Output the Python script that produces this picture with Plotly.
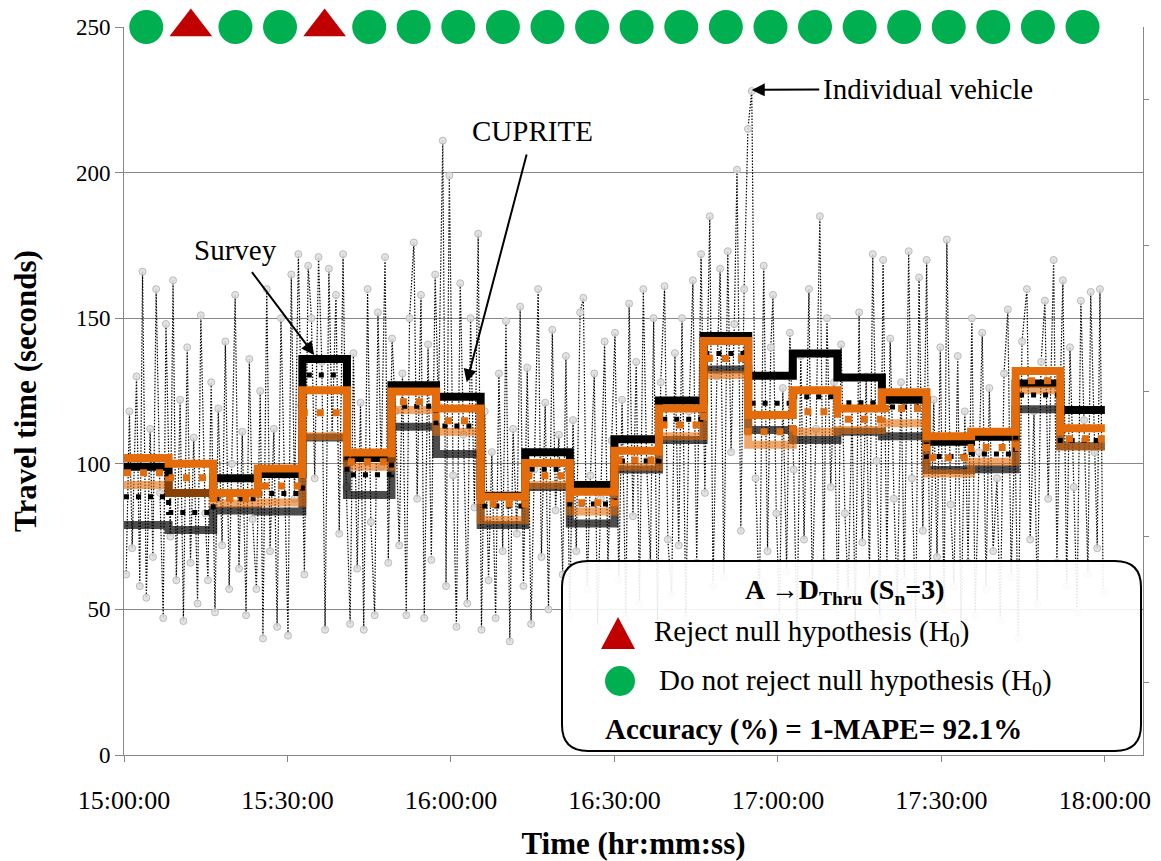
import pandas as pd
import plotly.graph_objects as go

# 22 analysis intervals between 15:00 and 18:00
bounds = ["15:00:00", "15:08:11", "15:16:22", "15:24:33", "15:32:44", "15:40:55",
          "15:49:05", "15:57:16", "16:05:27", "16:13:38", "16:21:49", "16:30:00",
          "16:38:11", "16:46:22", "16:54:33", "17:02:44", "17:10:55", "17:19:05",
          "17:27:16", "17:35:27", "17:43:38", "17:51:49", "18:00:00"]

# Survey (black) and CUPRITE (orange) travel times per interval
survey_hi = [99, 90, 95, 96.5, 136, 102, 127, 123, 89, 104, 92.7, 108.4,
             121.7, 143.9, 130.2, 137.9, 129.6, 122, 107.6, 109.3, 127.6, 118.5]
survey_mid = [88.7, 83.3, 88, 89.8, 130.5, 96.2, 119.8, 113, 85.5, 98.1, 86.2, 101,
              115.3, 137.9, 120.8, 123, 121, 119.5, 102.5, 103.4, 123.6, 108]
survey_lo = [79, 77.3, 84, 83.6, 109, 89.3, 112.7, 103.4, 79, 92, 79.5, 98,
             108.2, 132.4, 111.6, 108.2, 111, 109.5, 97.9, 98.1, 118.7, 106]
cup_hi = [102, 100, 90, 98.4, 125.3, 103.9, 124.8, 119, 88.7, 100.3, 90.4, 104.5,
          119, 142.2, 116.8, 125.3, 119, 124.6, 109.5, 111, 131.9, 112.2]
cup_mid = [96.9, 95.2, 88.1, 92.4, 117.5, 100.7, 121.3, 114.8, 86.2, 95.9, 86.6, 101.3,
           113.3, 136.2, 111, 117.9, 115.3, 119, 102.1, 105.6, 128.5, 108.6]
cup_lo = [92.7, 90, 86.4, 86.7, 109.5, 99, 118.5, 111, 80.7, 92.7, 83.6, 99,
          109.5, 130.5, 106.5, 111, 111.6, 113.9, 96.7, 100.7, 125.3, 105.9]

# hypothesis test per interval
test_result = ["keep", "reject", "keep", "keep", "reject", "keep", "keep", "keep",
               "keep", "keep", "keep", "keep", "keep", "keep", "keep", "keep",
               "keep", "keep", "keep", "keep", "keep", "keep"]

# individual vehicles: minutes after 15:00 and travel time (s)
veh_min = [0.4, 1.0, 1.5, 2.3, 2.9, 3.4, 4.1, 4.8, 5.3, 5.9, 6.6, 7.2, 7.7, 8.5, 9.0, 9.6,
           10.3, 10.9, 11.6, 12.2, 12.8, 13.5, 14.1, 14.9, 15.4, 16.0, 16.7, 17.3, 18.0, 18.6, 19.3, 19.8,
           20.4, 21.1, 21.7, 22.4, 23.0, 23.6, 24.3, 25.0, 25.5, 26.2, 26.8, 27.5, 28.1, 28.8, 29.4,
           30.1, 30.7, 31.3, 32.0, 32.5, 33.1, 33.8, 34.4, 35.0, 35.7, 36.3, 36.9, 37.6, 38.2, 38.9, 39.5,
           40.2, 40.8, 41.5, 42.1, 42.8, 43.4, 44.0, 44.7, 45.3, 46.0, 46.6, 47.2, 47.9, 48.5, 49.2, 49.8,
           50.5, 51.1, 51.8, 52.4, 53.2, 53.8, 54.5, 55.1, 55.8, 56.4, 57.1, 57.7, 58.5, 59.1, 59.7,
           60.4, 61.0, 61.7, 62.3, 63.0, 63.6, 64.3, 65.0, 65.6, 66.2, 66.9, 67.5, 68.2, 68.8, 69.5,
           70.1, 70.8, 71.4, 72.1, 72.7, 73.3, 74.0, 74.7, 75.3, 76.0, 76.6, 77.3, 77.9, 78.6, 79.2, 79.8,
           80.5, 81.1, 81.8, 82.4, 83.0, 83.7, 84.3, 85.0, 85.6, 86.3, 86.9, 87.5, 88.2, 88.8, 89.5,
           90.1, 90.8, 91.4, 92.1, 92.7, 93.4, 94.0, 94.6, 95.3, 95.9, 96.6, 97.2, 97.9, 98.5, 99.2, 99.8,
           100.5, 101.1, 101.8, 102.4, 103.1, 103.7, 104.4, 105.1, 105.9, 106.6, 107.5, 108.1, 108.8, 109.4,
           110.1, 110.8, 111.4, 112.0, 112.5, 113.2, 113.8, 114.5, 115.2, 115.9, 116.6, 117.4, 118.1, 118.7, 119.1, 119.7,
           120.3, 120.9, 121.6, 122.2, 122.9, 123.5, 124.2, 124.8, 125.7, 126.3, 127.0, 127.7, 128.4, 129.0, 129.7,
           130.3, 131.0, 131.6, 132.3, 132.9, 133.6, 134.2, 134.9, 135.5, 136.2, 136.8, 137.4, 138.1, 138.7, 139.3,
           140.0, 140.6, 141.3, 141.9, 142.6, 143.2, 144.0, 144.6, 145.3, 145.9, 146.6, 147.3, 147.9, 148.6, 149.2, 149.8,
           150.5, 151.0, 151.7, 152.3, 153.0, 153.6, 154.3, 154.9, 155.6, 156.2, 156.9, 157.5, 158.2, 158.8, 159.5,
           160.2, 160.8, 161.5, 162.2, 162.8, 163.5, 164.1, 164.8, 165.7, 166.3, 167.0, 167.6, 168.3, 169.0, 169.6,
           170.6, 171.2, 171.8, 172.3, 173.0, 173.6, 174.3, 174.9, 175.6, 176.2, 176.9, 177.4, 178.1, 178.6, 179.1, 179.7]
veh_tt = [62, 118, 71, 130, 58, 166, 54, 112, 68, 160, 90, 47, 148, 75, 163, 60,
          122, 46, 140, 66, 109, 52, 151, 83, 60, 128, 49, 119, 72, 142, 57, 100,
          158, 64, 111, 48, 136, 81, 57, 125, 40, 160, 70, 112, 44, 150, 96,
          41, 165, 88, 172, 120, 62, 168, 150, 95, 171, 135, 43, 167, 110, 158, 76,
          172, 92, 45, 138, 64, 121, 43, 160, 80, 48, 152, 99, 171, 66, 143, 118,
          72, 131, 48, 150, 176, 88, 158, 47, 141, 67, 165, 120, 211, 58, 199,
          96, 44, 162, 110, 52, 150, 85, 179, 43, 118, 60, 104, 47, 131, 70,
          149, 39, 112, 76, 154, 58, 133, 45, 98, 160, 68, 121, 50, 146, 84, 110,
          62, 137, 48, 115, 70, 152, 157, 57, 96, 131, 44, 88, 142, 65, 108,
          145, 60, 122, 47, 155, 82, 135, 52, 160, 101, 66, 150, 45, 128, 161, 74,
          55, 138, 72, 150, 47, 118, 163, 66, 172, 90, 185, 58, 130, 167,
          61, 173, 104, 148, 201, 77, 160, 215, 228, 95, 52, 168, 70, 140, 158, 83,
          48, 126, 63, 145, 98, 41, 137, 74, 160, 55, 112, 185, 66, 150, 92,
          128, 50, 141, 83, 56, 119, 44, 152, 73, 130, 60, 172, 101, 47, 170,
          65, 143, 88, 52, 128, 60, 173, 95, 45, 164, 77, 170, 55, 122, 68, 140,
          50, 177, 86, 58, 137, 42, 118, 66, 150, 48, 104, 145, 57, 126, 70,
          95, 46, 131, 153, 61, 112, 40, 142, 160, 74, 118, 52, 135, 156, 88,
          170, 66, 124, 163, 58, 140, 92, 49, 156, 115, 62, 159, 104, 71, 160, 56]

DAY = "2021-01-01 "
SERIF = "Liberation Serif, DejaVu Serif, serif"
ORANGE = "#E46C0A"


def tm(s):
    return pd.Timestamp(DAY + s)


t0 = tm("15:00:00")
bx = [tm(s) for s in bounds]
centers = [a + (b - a) / 2 for a, b in zip(bx[:-1], bx[1:])]
veh_x = [t0 + pd.Timedelta(minutes=m) for m in veh_min]

fig = go.Figure()

# individual vehicles
fig.add_trace(go.Scatter(
    x=veh_x, y=veh_tt, mode="lines+markers",
    line=dict(color="black", width=1.2, dash="1.5px,1.5px"),
    marker=dict(size=7, color="rgba(222,222,222,0.85)", line=dict(color="#bcbcbc", width=1)),
))


def step(vals, color, width, dash="solid"):
    fig.add_trace(go.Scatter(
        x=bx, y=vals + [vals[-1]], mode="lines", line_shape="hv",
        line=dict(color=color, width=width, dash=dash),
    ))


step(survey_lo, "rgba(0,0,0,0.7)", 8)
step(survey_hi, "black", 8)
step(cup_lo, "rgba(228,108,10,0.6)", 8)
step(survey_mid, "black", 5, "5px,7px")
step(cup_hi, ORANGE, 8)
step(cup_mid, ORANGE, 7, "7px,9px")

# hypothesis markers at top
keep_x = [c for c, r in zip(centers, test_result) if r == "keep"]
rej_x = [c for c, r in zip(centers, test_result) if r == "reject"]
fig.add_trace(go.Scatter(
    x=keep_x, y=[250] * len(keep_x), mode="markers", yaxis="y2", cliponaxis=False,
    marker=dict(symbol="circle", size=34, color="#00B050"),
))
fig.add_trace(go.Scatter(
    x=rej_x, y=[250] * len(rej_x), mode="markers", yaxis="y2", cliponaxis=False,
    marker=dict(symbol="triangle-up", size=37, color="#C00000"),
))

# pixel -> paper helpers for the custom legend box
L, T, W, H = 124, 27, 1019, 728


def px(x):
    return (x - L) / W


def py(y):
    return (T + H - y) / H


x0, x1, yt, yb = px(562), px(1141), py(561), py(751)
rx, ry = 26 / W, 26 / H
box = (f"M {x0+rx},{yb} L {x1-rx},{yb} Q {x1},{yb} {x1},{yb+ry} L {x1},{yt-ry} "
       f"Q {x1},{yt} {x1-rx},{yt} L {x0+rx},{yt} Q {x0},{yt} {x0},{yt-ry} "
       f"L {x0},{yb+ry} Q {x0},{yb} {x0+rx},{yb} Z")

shapes = [
    dict(type="path", xref="paper", yref="paper", path=box,
         fillcolor="rgba(255,255,255,0.9)", line=dict(color="black", width=2), layer="above"),
    dict(type="path", xref="paper", yref="paper",
         path=f"M {px(601)},{py(649)} L {px(635)},{py(649)} L {px(618)},{py(617)} Z",
         fillcolor="#C00000", line=dict(width=0), layer="above"),
    dict(type="circle", xref="paper", yref="paper", x0=px(605), x1=px(635), y0=py(696), y1=py(666),
         fillcolor="#00B050", line=dict(width=0), layer="above"),
]

arrow = dict(showarrow=True, arrowhead=2, arrowsize=1.3, arrowwidth=2, arrowcolor="black")
legend_txt = dict(xref="paper", yref="paper", showarrow=False, yanchor="middle")
annotations = [
    dict(x=px(845), y=py(591), xanchor="center",
         text="<b>A →D<sub>Thru</sub> (S<sub>n</sub>=3)</b>", font=dict(size=28), **legend_txt),
    dict(x=px(652), y=py(633), xanchor="left",
         text="Reject null hypothesis (H<sub>0</sub>)", font=dict(size=29), **legend_txt),
    dict(x=px(657), y=py(682), xanchor="left",
         text="Do not reject null hypothesis (H<sub>0</sub>)", font=dict(size=29), **legend_txt),
    dict(x=px(603), y=py(729), xanchor="left",
         text="<b>Accuracy (%) = 1-MAPE= 92.1%</b>", font=dict(size=29), **legend_txt),
    # pointer labels
    dict(x=t0 + pd.Timedelta(minutes=34.9), y=137.4, text="Survey", font=dict(size=29),
         ax=-79, ay=-105, startstandoff=6, **arrow),
    dict(x=t0 + pd.Timedelta(minutes=62.9), y=128, text="CUPRITE", font=dict(size=29),
         ax=66, ay=-251, startstandoff=6, **arrow),
    dict(x=t0 + pd.Timedelta(minutes=115.2), y=228.4, text="Individual vehicle", font=dict(size=29),
         ax=176, ay=-1, startstandoff=2, **arrow),
]

AX = "#878787"
fig.update_layout(
    width=1161, height=861,
    margin=dict(l=L, r=1161 - L - W, t=T, b=861 - T - H, autoexpand=False),
    plot_bgcolor="white", paper_bgcolor="white",
    font=dict(family=SERIF, size=22, color="black"),
    showlegend=False,
    shapes=shapes, annotations=annotations,
    xaxis=dict(
        range=[t0, tm("18:07:00")], tickformat="%H:%M:%S", tick0=t0, dtick=1800000,
        ticks="outside", ticklen=6, tickcolor=AX, showline=True, linecolor=AX,
        showgrid=False, zeroline=False, ticklabelstandoff=16, tickfont=dict(size=26),
        title=dict(text="<b>Time (hr:mm:ss)</b>", font=dict(size=31), standoff=19),
    ),
    yaxis=dict(
        range=[0, 250], dtick=50, ticks="outside", ticklen=8, tickcolor=AX,
        showline=True, linecolor=AX, gridcolor=AX, gridwidth=1, zeroline=False,
        tickfont=dict(size=23),
        title=dict(text="<b>Travel time (seconds)</b>", font=dict(size=31), standoff=30),
    ),
    yaxis2=dict(
        range=[0, 250], overlaying="y", side="right", anchor="x",
        tickvals=[25, 75, 125, 175, 225], ticks="outside", ticklen=5, tickcolor=AX,
        showline=True, linecolor=AX, showgrid=False, showticklabels=False, zeroline=False,
    ),
)

fig.write_html("out.html", config={"displayModeBar": False},
               post_script="document.body.style.margin='0px';")
